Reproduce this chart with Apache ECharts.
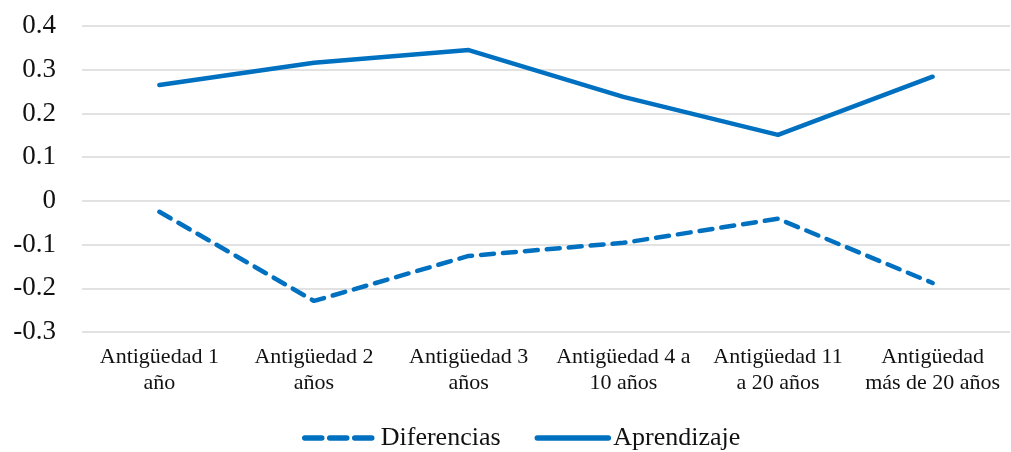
<!DOCTYPE html>
<html><head><meta charset="utf-8">
<script src="https://cdn.jsdelivr.net/npm/echarts@6/dist/echarts.min.js"></script>
<style>html,body{margin:0;padding:0;background:#fff}#c{width:1011px;height:452px}</style>
</head><body><div id="c"></div>
<script>
const categories = ["Antigüedad 1\naño","Antigüedad 2\naños","Antigüedad 3\naños","Antigüedad 4 a\n10 años","Antigüedad 11\na 20 años","Antigüedad\nmás de 20 años"];
const diferencias = [-0.025, -0.229, -0.126, -0.096, -0.041, -0.188];
const aprendizaje = [0.265, 0.316, 0.345, 0.238, 0.151, 0.284];
const yTicks = {min: -0.3, max: 0.4, interval: 0.1};

const chart = echarts.init(document.getElementById('c'));
const font = "'Liberation Serif','Times New Roman',serif";
chart.setOption({
  animation: false,
  textStyle: {fontFamily: font},
  grid: {left: 82, right: 1, top: 26, bottom: 120, containLabel: false},
  legend: {
    top: 420, left: 297, itemGap: 34, itemWidth: 71, itemHeight: 14,
    textStyle: {fontFamily: font, fontSize: 26, color: '#111', padding: [0, 0, 0, 0]},
    itemStyle: {opacity: 0},
    lineStyle: {width: 5.5},
    data: [
      {name: 'Diferencias', lineStyle: {type: [17, 8], width: 5.5}},
      {name: 'Aprendizaje', lineStyle: {width: 5.5}}
    ]
  },
  xAxis: {
    type: 'category', data: categories, boundaryGap: true,
    axisLine: {show: false}, axisTick: {show: false},
    axisLabel: {fontFamily: font, fontSize: 22, color: '#111', lineHeight: 26, margin: 12, interval: 0}
  },
  yAxis: {
    type: 'value', min: yTicks.min, max: yTicks.max, interval: yTicks.interval,
    axisLine: {show: false}, axisTick: {show: false},
    axisLabel: {fontFamily: font, fontSize: 27, color: '#111', margin: 26,
      formatter: v => { const r = Math.round(v*10)/10; return r === 0 ? '0' : String(r); }},
    splitLine: {lineStyle: {color: '#d9d9d9', width: 1.5}}
  },
  series: [
    {name: 'Diferencias', type: 'line', data: diferencias, symbol: 'none',
      color: '#0070C0',
      lineStyle: {color: '#0070C0', width: 4.5, type: [13, 9], cap: 'round'}},
    {name: 'Aprendizaje', type: 'line', data: aprendizaje, symbol: 'none',
      color: '#0070C0',
      lineStyle: {color: '#0070C0', width: 4.5, cap: 'round', join: 'round'}}
  ]
});
</script></body></html>
